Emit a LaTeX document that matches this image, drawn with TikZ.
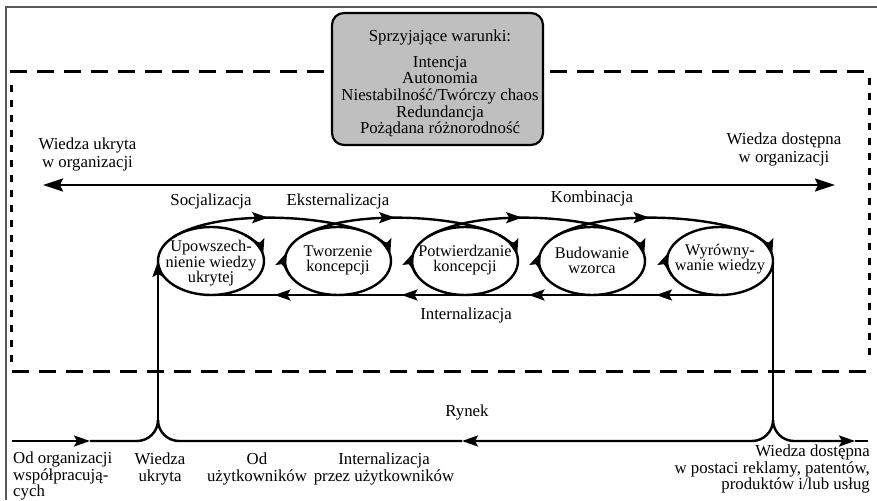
\documentclass[tikz,border=0pt]{standalone}
\usepackage{fontspec}
\setmainfont{Liberation Serif}
\usetikzlibrary{arrows.meta,decorations.markings,shapes.geometric,calc}

\tikzset{
  txt/.style={inner sep=0pt, align=center, font=\fontsize{16.8}{16.5}\selectfont},
  flow/.style={line width=2.4pt},
  cell/.style={ellipse, draw, line width=2.4pt, minimum width=106pt,
    minimum height=68pt, inner sep=0pt, outer sep=0pt},
  midarrow/.style={postaction={decorate}, decoration={markings,
    mark=at position #1 with {\arrow{>}}}},
  hdash/.style={line width=3pt, dash pattern=on 17pt off 10pt},
  vdash/.style={line width=3pt, dash pattern=on 7pt off 8pt},
  bigtip/.tip={Stealth[length=20pt,width=13pt,inset=3pt]},
}

\begin{document}
\begin{tikzpicture}[x=1pt,y=1pt,>={Stealth[length=16pt,width=11pt,inset=3pt]}]
\useasboundingbox (0,0) rectangle (877,500);

% page frame
\draw[black!65, line width=2.6pt] (6,0) -- (6,493) -- (877,493);

% organisation boundary
\draw[hdash] (10,428) -- (868,428);
\draw[hdash] (12,128) -- (870,128);
\draw[vdash] (11,415) -- (11,138);
\draw[vdash] (869,422) -- (869,140);

% enabling conditions
\node[draw, line width=2.2pt, rounded corners=12pt, fill=black!25,
  minimum width=211pt, minimum height=132pt] (cond) at (437.5,421) {};
\node[txt] (condtitle) at (440,463) {Sprzyjające warunki:};
\node[txt, font=\fontsize{16.8}{16.7}\selectfont] (condlist) at (440,403.5)
  {Intencja\\Autonomia\\Niestabilność/Twórczy chaos\\Redundancja\\Pożądana różnorodność};

% tacit -> explicit knowledge axis
\coordinate (axL) at (43,315);
\coordinate (axR) at (835,315);
\draw[flow, {bigtip}-{bigtip}] (axL) -- (axR);
\node[txt, font=\fontsize{16.8}{18}\selectfont] (tacit) at (87.5,346) {Wiedza ukryta\\w organizacji};
\node[txt, font=\fontsize{16.8}{18}\selectfont] (explicit) at (784,351) {Wiedza dostępna\\w organizacji};

% the five phases
\node[cell] (e1) at (211,239) {};
\node[cell] (e2) at (338,239) {};
\node[cell] (e3) at (465,239) {};
\node[cell] (e4) at (592,239) {};
\node[cell] (e5) at (720,239) {};
\node[txt, font=\fontsize{16.3}{15.5}\selectfont] (t1) at (211,236.5) {Upowszech-\\nienie wiedzy\\ukrytej};
\node[txt, font=\fontsize{16.3}{15}\selectfont] (t2) at (338,240) {Tworzenie\\koncepcji};
\node[txt, font=\fontsize{16.3}{15}\selectfont] (t3) at (465,240) {Potwierdzanie\\koncepcji};
\node[txt, font=\fontsize{16.3}{15}\selectfont] (t4) at (592,240) {Budowanie\\wzorca};
\node[txt, font=\fontsize{16.3}{15}\selectfont] (t5) at (720,240.5) {Wyrówny-\\wanie wiedzy};

% clockwise circulation inside each phase
\foreach \n in {e2,e3,e4,e5}
  \draw[flow,->] (\n.center) ++(205:53 and 34)
    arc[start angle=205, end angle=165, x radius=53, y radius=34];
\foreach \n in {e1,e2,e3,e4,e5}
  \draw[flow,->] (\n.center) ++(50:53 and 34)
    arc[start angle=50, end angle=10, x radius=53, y radius=34];

% forward spirals from one phase into the next
\foreach \a/\b in {e1/e2,e2/e3,e3/e4,e4/e5}
  \draw[flow, midarrow=0.5] ($(\a.center)+(-37.5,24)$)
    .. controls ($(\a.center)+(4.6,51)$) and ($(\b.center)+(-20.4,46.8)$)
    .. ($(\b.center)+(26.5,29.4)$);

\node[txt] (soc) at (211,299) {Socjalizacja};
\node[txt] (ext) at (338,299) {Eksternalizacja};
\node[txt] (komb) at (592,302) {Kombinacja};

% internalisation feedback along the bottom
\foreach \a/\b in {e5/e4,e4/e3,e3/e2,e2/e1}
  \draw[flow, midarrow=0.5] (\a.south) -- (\b.south);
\node[txt] (intern) at (466,185) {Internalizacja};

% market exchange
\coordinate (inL) at (12,59);
\coordinate (aIn) at (90,59);
\coordinate (jL) at (158,80);
\coordinate (jR) at (773,80);
\coordinate (aRyn) at (462,59);
\coordinate (aOut) at (855,59);
\coordinate (outR) at (868,59);

\draw[flow,->] (inL) -- (aIn);
\draw[flow] (aIn) -- ++(47,0) arc[start angle=-90, end angle=0, radius=21];
\draw[flow,->] (jL) -- (e1.west);
\draw[flow] (e5.east) -- (jR);
\draw[flow,->] (jR) arc[start angle=0, end angle=-90, radius=21] -- (aRyn);
\draw[flow] (aRyn) -- (179,59) arc[start angle=270, end angle=180, radius=21];
\draw[flow,->] (jR) arc[start angle=180, end angle=270, radius=21] -- (aOut);
\draw[flow] (aOut) -- (outR);

\node[txt] (rynek) at (467,88) {Rynek};
\node[txt, align=left, anchor=west, font=\fontsize{16.8}{16.5}\selectfont] (b1) at (13,24)
  {Od organizacji\\współpracują-\\cych};
\node[txt, font=\fontsize{16.8}{17}\selectfont] (b2) at (160,31.5) {Wiedza\\ukryta};
\node[txt, font=\fontsize{16.8}{17}\selectfont] (b3) at (257,31.5) {Od\\użytkowników};
\node[txt, font=\fontsize{16.8}{17}\selectfont] (b4) at (384,31.5) {Internalizacja\\przez użytkowników};
\node[txt, align=right, anchor=east, font=\fontsize{16.8}{16.7}\selectfont] (b5) at (870,31)
  {Wiedza dostępna\\w postaci reklamy, patentów,\\produktów i/lub usług};
\end{tikzpicture}
\end{document}
